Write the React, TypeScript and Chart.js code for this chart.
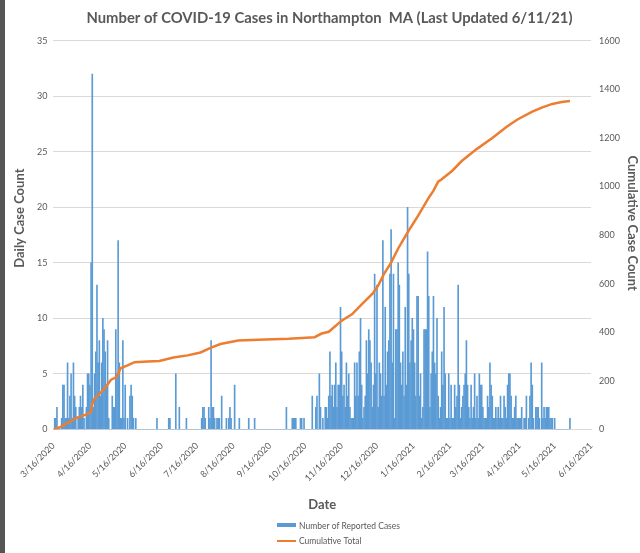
import React, { useEffect, useRef } from 'react';
import { Chart, registerables } from 'chart.js';

Chart.register(...registerables);

const TITLE = 'Number of COVID-19 Cases in Northampton  MA (Last Updated 6/11/21)';
const X_TITLE = 'Date';
const Y_LEFT_TITLE = 'Daily Case Count';
const Y_RIGHT_TITLE = 'Cumulative Case Count';
const BAR_LABEL = 'Number of Reported Cases';
const LINE_LABEL = 'Cumulative Total';

// x tick positions: days since 3/16/2020
const tickDays = [0, 31, 61, 92, 122, 153, 184, 214, 245, 275, 306, 337, 365, 396, 426, 457];
const tickLabels = [
  '3/16/2020', '4/16/2020', '5/16/2020', '6/16/2020', '7/16/2020', '8/16/2020',
  '9/16/2020', '10/16/2020', '11/16/2020', '12/16/2020', '1/16/2021', '2/16/2021',
  '3/16/2021', '4/16/2021', '5/16/2021', '6/16/2021',
];

// daily reported cases, one value per day starting 3/16/2020
const dailyCases = [
  0, 1, 1, 2, 0, 0, 0, 1, 4, 4,
  1, 1, 6, 1, 3, 5, 1, 6, 3, 2,
  0, 1, 2, 3, 2, 4, 1, 0, 2, 5,
  5, 4, 15, 32, 2, 5, 7, 13, 6, 8,
  3, 6, 10, 9, 7, 4, 8, 1, 0, 0,
  3, 2, 2, 9, 5, 17, 6, 1, 1, 8,
  1, 4, 0, 1, 0, 3, 4, 3, 1, 0,
  1, 0, 0, 0, 0, 0, 0, 0, 0, 0,
  0, 0, 0, 0, 0, 0, 0, 0, 1, 0,
  0, 0, 0, 0, 0, 0, 0, 0, 1, 1,
  0, 0, 0, 0, 5, 0, 0, 2, 0, 0,
  0, 0, 0, 1, 0, 0, 0, 0, 0, 0,
  0, 0, 0, 0, 0, 0, 1, 2, 2, 1,
  0, 0, 2, 1, 8, 2, 2, 1, 0, 1,
  1, 1, 0, 3, 0, 0, 0, 1, 0, 1,
  2, 1, 0, 0, 4, 0, 0, 0, 1, 0,
  0, 0, 0, 0, 0, 0, 1, 0, 0, 0,
  0, 1, 0, 0, 0, 0, 0, 0, 0, 0,
  0, 0, 0, 0, 0, 0, 0, 0, 0, 0,
  0, 0, 0, 0, 0, 0, 0, 0, 2, 0,
  0, 0, 0, 1, 1, 1, 1, 0, 0, 0,
  1, 1, 0, 1, 0, 0, 0, 0, 0, 0,
  3, 0, 0, 2, 3, 0, 5, 2, 0, 1,
  0, 2, 2, 1, 3, 7, 3, 4, 2, 4,
  6, 2, 4, 4, 11, 7, 3, 4, 2, 6,
  3, 5, 2, 1, 1, 1, 6, 3, 6, 3,
  7, 10, 4, 1, 2, 3, 8, 5, 9, 8,
  6, 2, 4, 14, 5, 13, 2, 6, 5, 3,
  17, 3, 11, 4, 7, 8, 14, 18, 6, 14,
  1, 9, 9, 15, 13, 6, 4, 7, 3, 11,
  4, 20, 14, 6, 8, 10, 9, 6, 3, 12,
  12, 3, 5, 1, 2, 9, 9, 9, 16, 12,
  2, 5, 7, 12, 6, 5, 10, 3, 1, 2,
  7, 4, 11, 5, 1, 1, 5, 1, 4, 1,
  1, 4, 2, 3, 13, 4, 1, 2, 3, 4,
  5, 8, 4, 2, 1, 4, 1, 2, 5, 1,
  3, 1, 5, 4, 4, 2, 1, 1, 1, 3,
  2, 6, 4, 3, 1, 1, 2, 1, 2, 1,
  3, 1, 1, 3, 2, 1, 4, 5, 5, 3,
  1, 1, 2, 3, 1, 1, 1, 1, 2, 0,
  1, 1, 3, 0, 1, 3, 6, 4, 1, 0,
  2, 2, 2, 1, 0, 6, 1, 2, 1, 2,
  2, 2, 1, 1, 1, 0, 1, 0, 0, 0,
  0, 0, 0, 0, 0, 0, 0, 0, 0, 1,
];

// cumulative total, read at selected days
const cumDays = [
  0, 5, 13, 20, 27, 32, 33, 35, 42, 49, 54, 57, 63, 69, 80, 90, 102, 114, 125, 134,
  142, 157, 180, 200, 222, 228, 234, 245, 254, 262, 271, 276, 281, 287, 293, 302, 310, 319, 323, 327,
  330, 339, 347, 360, 373, 385, 394, 407, 415, 424, 432, 439,
];
const cumTotals = [
  0, 8, 29, 49, 60, 72, 105, 128, 160, 205, 217, 252, 264, 277, 280, 282, 296, 305, 317, 337,
  352, 366, 370, 373, 380, 395, 402, 448, 475, 515, 558, 592, 641, 687, 745, 819, 880, 954, 983, 1020,
  1030, 1065, 1105, 1155, 1200, 1245, 1275, 1308, 1325, 1340, 1348, 1352,
];

const FONT = 'Lato';
const TEXT = '#595959';

const legendPlugin = {
  id: 'stackedLegend',
  afterDraw(chart: any) {
    const ctx = chart.ctx;
    const ds = chart.data.datasets;
    const left = 277;
    ctx.save();
    ctx.font = `8.5px ${FONT}`;
    ctx.textBaseline = 'middle';
    ctx.textAlign = 'left';
    ctx.fillStyle = ds[0].backgroundColor;
    ctx.fillRect(left, 523, 19, 4);
    ctx.fillStyle = TEXT;
    ctx.fillText(ds[0].label, left + 22, 526);
    ctx.strokeStyle = ds[1].borderColor;
    ctx.lineWidth = 2;
    ctx.beginPath();
    ctx.moveTo(left, 541);
    ctx.lineTo(left + 19, 541);
    ctx.stroke();
    ctx.fillStyle = TEXT;
    ctx.fillText(ds[1].label, left + 22, 541);
    ctx.restore();
  },
};

// vertical axis titles, placed like the original (slightly above the plot's middle)
const axisTitlePlugin = {
  id: 'axisTitles',
  afterDraw(chart: any) {
    const ctx = chart.ctx;
    const area = chart.chartArea;
    const midY = (area.top + area.bottom) / 2;
    ctx.save();
    ctx.font = `bold 13px ${FONT}`;
    ctx.fillStyle = TEXT;
    ctx.textAlign = 'center';
    ctx.textBaseline = 'middle';
    ctx.translate(20, midY - 17);
    ctx.rotate(-Math.PI / 2);
    ctx.fillText(Y_LEFT_TITLE, 0, 0);
    ctx.restore();
    ctx.save();
    ctx.font = `bold 13px ${FONT}`;
    ctx.fillStyle = TEXT;
    ctx.textAlign = 'center';
    ctx.textBaseline = 'middle';
    ctx.translate(632, midY - 12);
    ctx.rotate(Math.PI / 2);
    ctx.fillText(Y_RIGHT_TITLE, 0, 0);
    ctx.restore();
  },
};

export default function App() {
  const ref = useRef<HTMLCanvasElement>(null);
  useEffect(() => {
    const canvas = ref.current;
    if (!canvas) return;
    const chart = new Chart(canvas, {
      type: 'bar',
      data: {
        datasets: [
          {
            type: 'bar',
            label: BAR_LABEL,
            data: dailyCases.map((v, i) => ({ x: i, y: v })),
            backgroundColor: '#5B9BD5',
            barThickness: 1,
            yAxisID: 'y',
            order: 2,
          } as any,
          {
            type: 'line',
            label: LINE_LABEL,
            data: cumDays.map((d, i) => ({ x: d, y: cumTotals[i] })),
            borderColor: '#ED7D31',
            backgroundColor: '#ED7D31',
            borderWidth: 2.5,
            pointRadius: 0,
            tension: 0,
            yAxisID: 'y1',
            order: 1,
          } as any,
        ],
      },
      plugins: [legendPlugin, axisTitlePlugin],
      options: {
        animation: false,
        responsive: false,
        maintainAspectRatio: false,
        layout: { padding: { left: 31, right: 12, top: 0, bottom: 40 } },
        scales: {
          x: {
            type: 'linear',
            min: 0,
            max: 457,
            offset: false,
            afterBuildTicks: (axis: any) => {
              axis.ticks = tickDays.map((value) => ({ value }));
            },
            ticks: {
              autoSkip: false,
              minRotation: 45,
              maxRotation: 45,
              color: TEXT,
              font: { family: FONT, size: 9 },
              callback: (v: any) => tickLabels[tickDays.indexOf(Number(v))],
            },
            grid: { display: false },
            border: { display: true, color: '#d9d9d9' },
            title: {
              display: true,
              text: X_TITLE,
              color: TEXT,
              font: { family: FONT, size: 13, weight: 'bold' },
              padding: { top: 11, bottom: 0 },
            },
          },
          y: {
            type: 'linear',
            position: 'left',
            min: 0,
            max: 35,
            ticks: { stepSize: 5, color: TEXT, font: { family: FONT, size: 9 }, padding: 6 },
            grid: { color: '#d9d9d9', drawTicks: false },
            border: { display: false },
          },
          y1: {
            type: 'linear',
            position: 'right',
            min: 0,
            max: 1600,
            ticks: {
              stepSize: 200,
              color: TEXT,
              font: { family: FONT, size: 9 },
              padding: 8,
              callback: (v: any) => String(v),
            },
            grid: { display: false, drawTicks: false },
            border: { display: false },
          },
        },
        plugins: {
          legend: { display: false },
          tooltip: { enabled: false },
          title: {
            display: true,
            text: TITLE,
            color: TEXT,
            font: { family: FONT, size: 14.8, weight: 'bold' },
            padding: { top: 9, bottom: 14 },
          },
        },
      } as any,
    });
    return () => chart.destroy();
  }, []);

  return (
    <div style={{ position: 'fixed', left: 0, top: 0, width: 640, height: 553, background: '#fff' }}>
      <div style={{ position: 'absolute', left: 0, top: 0, width: 5, height: 553, background: '#555' }} />
      <canvas ref={ref} width={640} height={553} style={{ display: 'block', width: 640, height: 553 }} />
    </div>
  );
}
